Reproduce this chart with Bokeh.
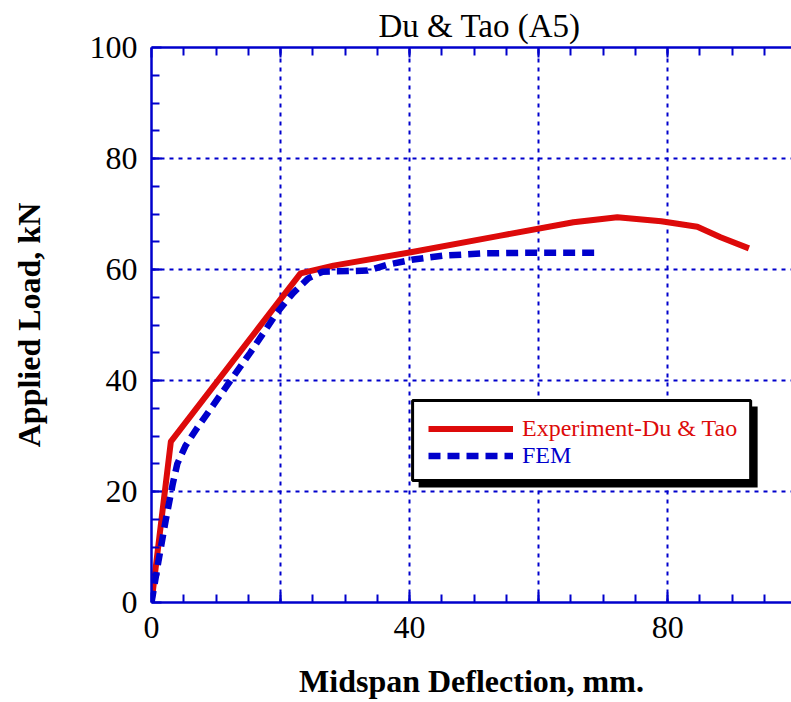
from bokeh.plotting import figure
from bokeh.models import (Range1d, LinearAxis, FixedTicker, Legend, LegendItem,
                          BoxAnnotation, Title)
from bokeh.embed import file_html
from bokeh.resources import INLINE

# ---- data ----
exp_x = [0, 3.0, 23.1, 28.2, 40.2, 54.1, 65.4, 72.2, 79.0, 84.6, 88.2, 92.6]
exp_y = [0, 29.0, 59.3, 60.7, 63.1, 66.1, 68.5, 69.4, 68.7, 67.7, 65.8, 63.8]

fem_x = [0, 1.1, 2.2, 3.3, 4.0, 5.3, 7.1, 15.3, 19.5, 21.9, 24.3, 26.5,
         33.5, 36.7, 40.6, 45.3, 51.5, 57.2, 68.8]
fem_y = [0, 7.6, 14.8, 21.4, 25.0, 28.3, 31.5, 45.0, 52.3, 55.7, 58.4, 59.6,
         59.8, 60.9, 61.8, 62.5, 62.9, 63.0, 63.0]

x_major = [0, 20, 40, 60, 80]
x_labels = {0: "0", 20: "", 40: "40", 60: "", 80: "80"}
y_major = [0, 20, 40, 60, 80, 100]
minor5 = [v for v in range(5, 100, 5)]

series_names = ["Experiment-Du & Tao", "FEM"]
title_text = "Du & Tao (A5)"
x_title = "Midspan Deflection, mm."
y_title = "Applied Load, kN"

RED = "#dd0a0a"
BLUE = "#0000cc"
FONT = "Liberation Serif"

p = figure(width=791, height=702, output_backend="svg", toolbar_location=None,
           x_range=Range1d(0, 99.2), y_range=Range1d(0, 100),
           min_border_left=151, min_border_right=0, min_border_top=47,
           min_border_bottom=100, x_axis_location=None, y_axis_location=None)
p.outline_line_color = None
p.background_fill_color = "white"

# title
p.title = Title(text=title_text, align="left", text_font=FONT,
                text_font_size="33px", text_font_style="normal",
                text_color="black", offset=227, standoff=4,
                vertical_align="top")

def style_axis(ax):
    ax.axis_line_color = BLUE
    ax.axis_line_width = 2.5
    ax.major_tick_line_color = BLUE
    ax.minor_tick_line_color = BLUE
    ax.major_tick_line_width = 2
    ax.minor_tick_line_width = 2
    ax.major_tick_in = 10
    ax.major_tick_out = 0
    ax.minor_tick_in = 8
    ax.minor_tick_out = 0
    ax.major_label_text_font = FONT
    ax.major_label_text_font_size = "32px"
    ax.major_label_text_color = "black"
    ax.axis_label_text_font = FONT
    ax.axis_label_text_font_size = "32px"
    ax.axis_label_text_font_style = "bold"
    ax.axis_label_text_color = "black"

# bottom axis
xb = LinearAxis(ticker=FixedTicker(ticks=x_major, minor_ticks=minor5),
                axis_label=x_title)
style_axis(xb)
xb.major_label_overrides = x_labels
xb.major_label_standoff = 14
xb.axis_label_standoff = 22
p.add_layout(xb, "below")

# top axis (ticks only)
xt = LinearAxis(ticker=FixedTicker(ticks=x_major, minor_ticks=minor5))
style_axis(xt)
xt.major_label_overrides = {t: "" for t in x_major}
xt.major_label_text_font_size = "1px"
xt.major_label_standoff = 0
p.add_layout(xt, "above")

# left axis
yl = LinearAxis(ticker=FixedTicker(ticks=y_major, minor_ticks=minor5),
                axis_label=y_title)
style_axis(yl)
yl.major_label_standoff = 14
yl.axis_label_standoff = 40
p.add_layout(yl, "left")

# grids
p.xgrid.ticker = FixedTicker(ticks=[20, 40, 60, 80])
p.ygrid.ticker = FixedTicker(ticks=[20, 40, 60, 80])
for g in (p.xgrid, p.ygrid):
    g.grid_line_color = BLUE
    g.grid_line_width = 2
    g.grid_line_dash = "4 5"

# data lines
r_exp = p.line(exp_x, exp_y, line_color=RED, line_width=6, line_join="round")
r_fem = p.line(fem_x, fem_y, line_color=BLUE, line_width=6.5,
               line_dash="12 7", line_cap="butt")

# legend frame with drop shadow
p.add_layout(BoxAnnotation(left=41.4, right=93.95, top=35.3, bottom=20.7,
                           fill_color="black", fill_alpha=1, line_color=None))
p.add_layout(BoxAnnotation(left=40.47, right=92.87, top=36.4, bottom=21.98,
                           fill_color="white", fill_alpha=1,
                           line_color="black", line_width=3, line_alpha=1))

def make_legend(item, color, loc):
    lg = Legend(items=[item], location=loc, padding=0, margin=0, spacing=0,
                glyph_width=85, glyph_height=27, label_height=27,
                label_standoff=9, border_line_color=None,
                background_fill_alpha=0, label_text_font=FONT,
                label_text_font_size="24px", label_text_color=color)
    return lg

p.add_layout(make_legend(LegendItem(label=series_names[0], renderers=[r_exp]),
                         RED, (277, 160.5)))
p.add_layout(make_legend(LegendItem(label=series_names[1], renderers=[r_fem]),
                         BLUE, (277, 133.5)))

open("out.html", "w").write(file_html(p, INLINE))
